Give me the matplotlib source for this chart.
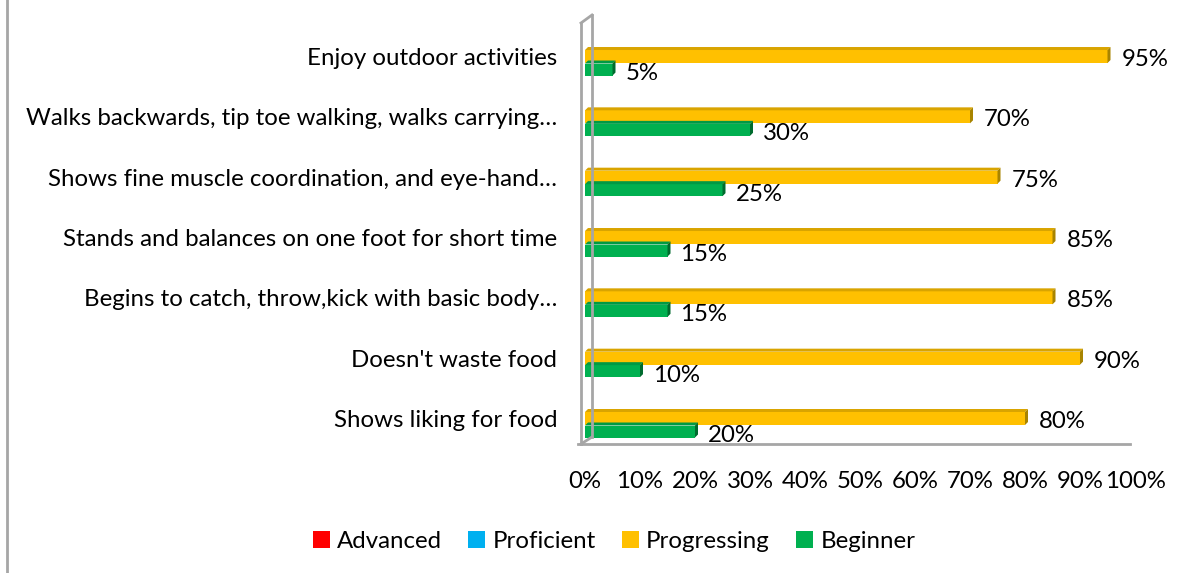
import matplotlib
matplotlib.use("Agg")
import matplotlib.pyplot as plt
from matplotlib.patches import Polygon, Patch
from matplotlib.lines import Line2D
import numpy as np

categories = [
    "Shows liking for food",
    "Doesn't waste food",
    "Begins to catch, throw,kick with basic body…",
    "Stands and balances on one foot for short time",
    "Shows fine muscle coordination, and eye-hand…",
    "Walks backwards, tip toe walking, walks carrying…",
    "Enjoy outdoor activities",
]
progressing = [80, 90, 85, 85, 75, 70, 95]
beginner = [20, 10, 15, 15, 25, 30, 5]
series_names = ["Advanced", "Proficient", "Progressing", "Beginner"]
series_colors = ["#FF0000", "#00B0F0", "#FFC000", "#00B050"]
xtick_labels = ["0%", "10%", "20%", "30%", "40%", "50%", "60%", "70%", "80%", "90%", "100%"]

plt.rcParams['font.family'] = ['Lato', 'DejaVu Sans']
FS = 17.3

W, H = 1203, 573
fig = plt.figure(figsize=(W / 100, H / 100), dpi=100)

px0, px1 = 585, 1135
py_top, py_bot = 15, 443
ax = fig.add_axes([px0 / W, 1 - py_bot / H, (px1 - px0) / W, (py_bot - py_top) / H])

spacing = 60.33
ymin = -(py_bot - 425) / spacing
ymax = (425 - py_top) / spacing
ax.set_xlim(0, 100)
ax.set_ylim(ymin, ymax)

pos = np.arange(len(categories))
h_y = 13 / spacing
h_g = 12 / spacing
off_y = 6.5 / spacing
off_g = -6.5 / spacing
dx = 3 / 5.5
dy = 3 / spacing


def bar3d(y, v, h, color, top_color, side_color):
    ax.barh(y, v, height=h, color=color, edgecolor='none', zorder=3)
    top = y + h / 2
    bot = y - h / 2
    ax.add_patch(Polygon([(0, top), (v, top), (v + dx, top + dy), (dx, top + dy)],
                         closed=True, facecolor=top_color, edgecolor='none', zorder=3))
    ax.add_patch(Polygon([(v, bot), (v, top), (v + dx, top + dy), (v + dx, bot + dy)],
                         closed=True, facecolor=side_color, edgecolor='none', zorder=3))


for i, (p, b) in enumerate(zip(progressing, beginner)):
    bar3d(pos[i] + off_y, p, h_y, "#FFC000", "#D9A400", "#A88400")
    bar3d(pos[i] + off_g, b, h_g, "#00B050", "#009944", "#006B2E")
    ax.text(p + 14 / 5.5, pos[i] + off_y - 3 / spacing, f"{p}%", fontsize=FS,
            ha='left', va='center', color='black', zorder=4)
    ax.text(b + 13 / 5.5, pos[i] + off_g - 4 / spacing, f"{b}%", fontsize=FS,
            ha='left', va='center', color='black', zorder=4)

ax.set_yticks(pos + off_y)
ax.set_yticklabels(categories, fontsize=FS)
ax.tick_params(axis='y', length=0, pad=20)
ax.set_xticks(np.arange(0, 101, 10))
ax.set_xticklabels(xtick_labels, fontsize=FS)
ax.tick_params(axis='x', length=0, pad=20)
for s in ax.spines.values():
    s.set_visible(False)
ax.patch.set_visible(False)

# 3D wall and floor lines (figure pixel coordinates)
gray = "#A6A6A6"
def fline(xs, ys, lw=2):
    fig.add_artist(Line2D([x / W for x in xs], [1 - y / H for y in ys], color=gray, lw=lw))

fline([578, 1130], [444, 444])
fline([581, 581], [444, 23])
fline([592, 592], [437, 15])
fline([581, 592], [23, 15])
fline([581, 592], [444, 437])
fline([7, 7], [0, 573], lw=2)

handles = [Patch(facecolor=c, edgecolor='none') for c in series_colors]
fig.legend(handles, series_names, loc='center', bbox_to_anchor=(614 / W, 1 - 541 / H),
           ncol=4, frameon=False, fontsize=FS, handlelength=0.7, handleheight=0.7,
           handletextpad=0.3, columnspacing=1.1)

fig.savefig("out.png", dpi=100)
